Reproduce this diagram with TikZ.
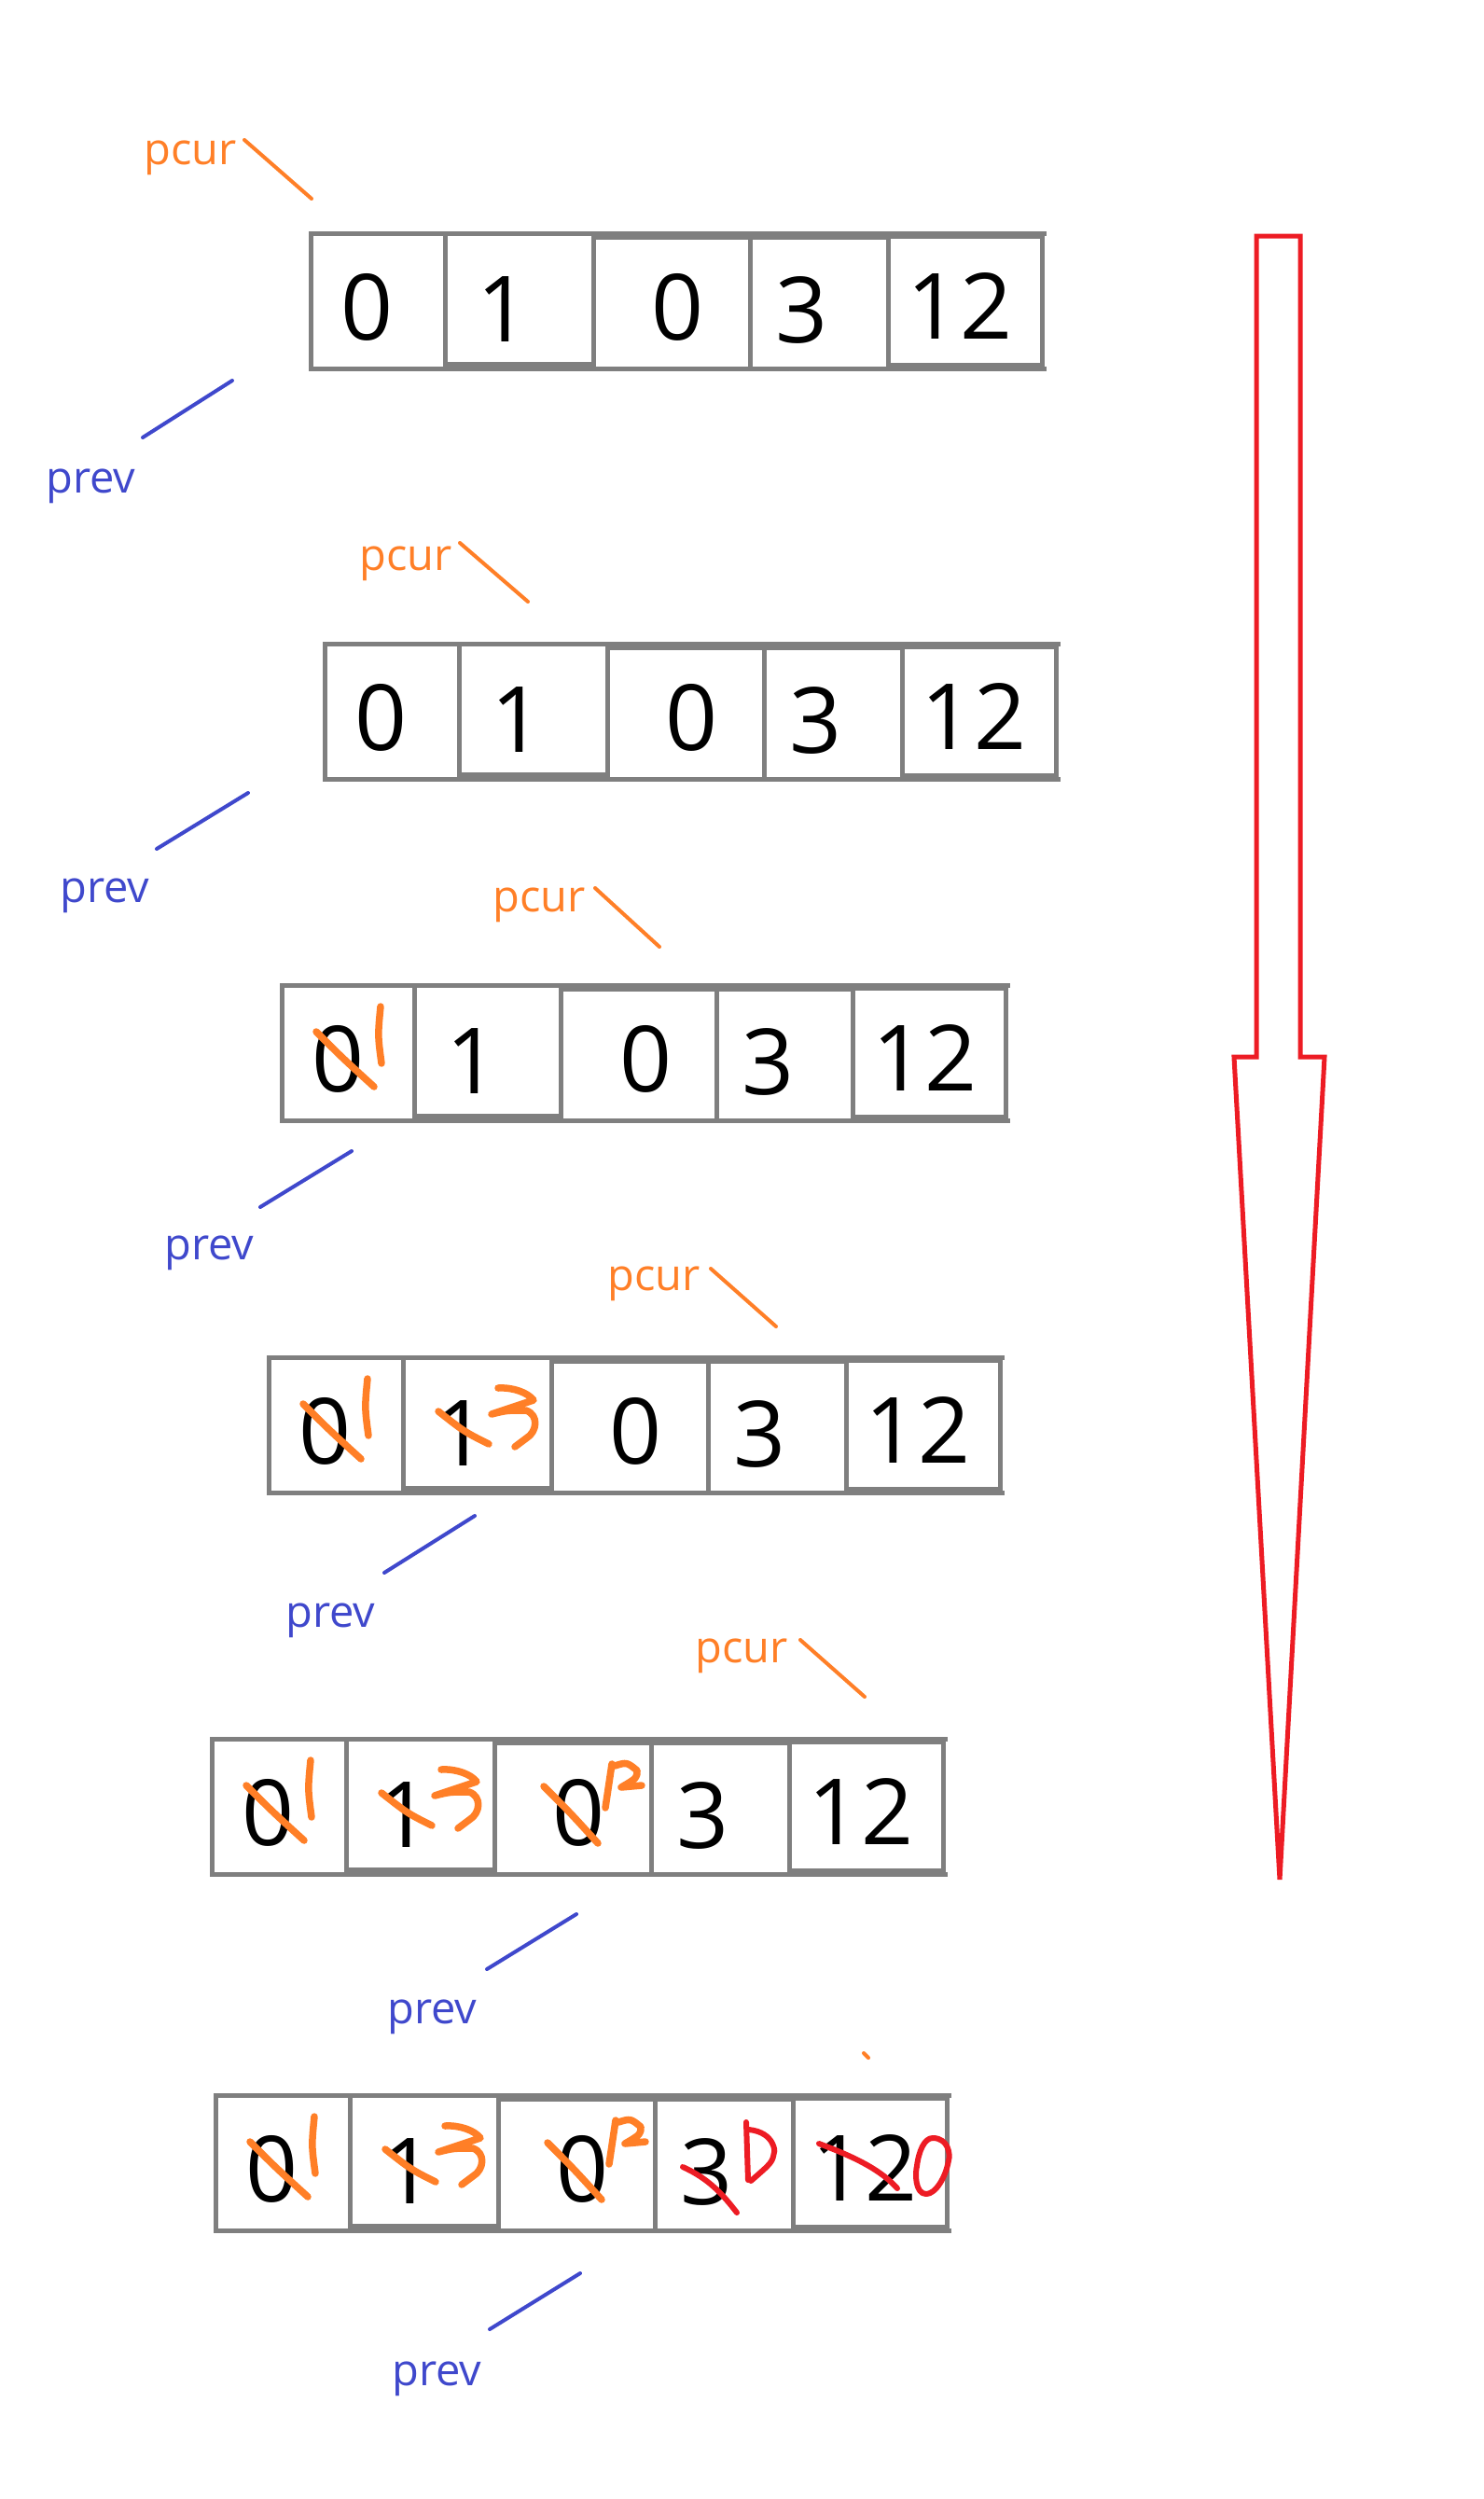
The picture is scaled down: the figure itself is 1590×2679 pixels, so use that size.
\documentclass[tikz,border=0pt]{standalone}
\usepackage{fontspec}
\setmainfont{Open Sans}
\definecolor{cellgray}{HTML}{7F7F7F}
\definecolor{pcurorange}{HTML}{FF7F27}
\definecolor{prevblue}{HTML}{3F48CC}
\definecolor{inkred}{HTML}{ED1C24}
\tikzset{
  cellline/.style={draw=cellgray, line width=5pt},
  digit/.style={anchor=base, inner sep=0pt, text=black, font=\fontsize{98}{100}\selectfont},
  pcurlabel/.style={anchor=base west, inner sep=0pt, text=pcurorange, font=\fontsize{47}{50}\selectfont},
  prevlabel/.style={anchor=base west, inner sep=0pt, text=prevblue, font=\fontsize{47}{50}\selectfont},
  pcurline/.style={draw=pcurorange, line width=4pt, line cap=round},
  prevline/.style={draw=prevblue, line width=4pt, line cap=round},
  orangeink/.style={draw=pcurorange, line width=7.5pt, line cap=round, line join=round},
  redink/.style={draw=inkred, line width=6pt, line cap=round, line join=round},
  bigarrow/.style={draw=inkred, line width=5pt, line join=miter}
}
% one row of five cells; #1 name prefix, #2 left x, #3 top y, #4 horizontal scale
\newcommand{\numberrow}[4]{%
  \begin{scope}[shift={(#2,#3)}, xscale=#4]
    \draw[cellline] (0,0) rectangle (144,145);
    \draw[cellline] (144,0) rectangle (303,140);
    \draw[cellline] (303,4) rectangle (471,145);
    \draw[cellline] (471,4) rectangle (619,145);
    \draw[cellline] (619,3) rectangle (784,141);
    \draw[cellline] (0,0) -- (789,0);
    \draw[cellline] (0,145) -- (789,145);
    \node[digit] (#1a) at (61,114) {0};
    \node[digit] (#1b) at (207,116) {1};
    \node[digit] (#1c) at (394,114) {0};
    \node[digit] (#1d) at (527,117) {3};
    \node[digit] (#1e) at (696,113) {12};
  \end{scope}}
% hand-written corrections, relative to the row origin
\newcommand{\fixfirst}[2]{%
  \begin{scope}[shift={(#1,#2)}]
    \draw[orangeink] (37,50) .. controls (65,78) .. (99,109);
    \draw[orangeink] (106,23) .. controls (103,54) .. (107,84);
  \end{scope}}
\newcommand{\fixsecond}[2]{%
  \begin{scope}[shift={(#1,#2)}]
    \draw[orangeink] (182,58) .. controls (210,80) .. (236,93);
    \draw[orangeink] (246,33) .. controls (262,32) and (278,38) .. (284,46)
      -- (239,61) .. controls (255,57) .. (276,57)
      .. controls (290,62) and (288,80) .. (276,87) -- (264,96);
  \end{scope}}
\newcommand{\fixthird}[2]{%
  \begin{scope}[shift={(#1,#2)}]
    \draw[orangeink] (356,51) .. controls (385,80) .. (414,112);
    \draw[orangeink] (429,27) -- (422,74);
    \draw[orangeink] (432,29) .. controls (445,25) .. (456,34)
      .. controls (456,42) .. (439,52) -- (461,50);
  \end{scope}}
\newcommand{\fixlast}[2]{%
  \begin{scope}[shift={(#1,#2)}]
    \draw[redink] (501,77) .. controls (530,90) and (545,108) .. (559,126);
    \draw[redink] (569,29) -- (571,91);
    \draw[redink] (572,37) .. controls (600,40) and (600,62) .. (599,61)
      .. controls (597,72) .. (574,92);
    \draw[redink] (647,52) .. controls (690,68) and (715,82) .. (731,100);
    \draw[redink] (769,46) .. controls (786,46) and (788,64) .. (786,70)
      .. controls (783,88) and (772,106) .. (762,106)
      .. controls (750,106) and (750,84) .. (752,76)
      .. controls (754,60) and (760,46) .. (769,46);
  \end{scope}}
\begin{document}
\begin{tikzpicture}[x=1pt,y=-1pt]
\fill[white] (0,0) rectangle (1590,2679);
\useasboundingbox (0,0) rectangle (1590,2679);

% rows
\numberrow{ra}{333}{250}{1}
\numberrow{rb}{348}{690}{1}
\numberrow{rc}{302}{1056}{0.99}
\numberrow{rd}{288}{1455}{1}
\numberrow{re}{227}{1864}{1}
\numberrow{rf}{231}{2246}{1}

% corrections
\fixfirst{302}{1056}
\fixfirst{288}{1455}\fixsecond{288}{1455}
\fixfirst{227}{1864}\fixsecond{227}{1864}\fixthird{227}{1864}
\fixfirst{231}{2246}\fixsecond{231}{2246}\fixthird{231}{2246}\fixlast{231}{2246}

% pcur labels and pointers
\node[pcurlabel] (pcura) at (154,176) {pcur};
\coordinate (pcas) at (262,150); \coordinate (pcae) at (334,213);
\draw[pcurline] (pcas) -- (pcae);
\node[pcurlabel] (pcurb) at (385,611) {pcur};
\coordinate (pcbs) at (493,582); \coordinate (pcbe) at (566,645);
\draw[pcurline] (pcbs) -- (pcbe);
\node[pcurlabel] (pcurc) at (528,977) {pcur};
\coordinate (pccs) at (638,952); \coordinate (pcce) at (707,1015);
\draw[pcurline] (pccs) -- (pcce);
\node[pcurlabel] (pcurd) at (651,1383) {pcur};
\coordinate (pcds) at (762,1360); \coordinate (pcde) at (832,1422);
\draw[pcurline] (pcds) -- (pcde);
\node[pcurlabel] (pcure) at (745,1782) {pcur};
\coordinate (pces) at (858,1758); \coordinate (pcee) at (927,1819);
\draw[pcurline] (pces) -- (pcee);
\coordinate (pcfs) at (926,2201); \coordinate (pcfe) at (931,2206);
\draw[pcurline] (pcfs) -- (pcfe);

% prev labels and pointers
\node[prevlabel] (preva) at (49,528) {prev};
\coordinate (pvas) at (249,408); \coordinate (pvae) at (153,469);
\draw[prevline] (pvas) -- (pvae);
\node[prevlabel] (prevb) at (64,967) {prev};
\coordinate (pvbs) at (266,850); \coordinate (pvbe) at (168,910);
\draw[prevline] (pvbs) -- (pvbe);
\node[prevlabel] (prevc) at (176,1350) {prev};
\coordinate (pvcs) at (377,1234); \coordinate (pvce) at (279,1294);
\draw[prevline] (pvcs) -- (pvce);
\node[prevlabel] (prevd) at (306,1744) {prev};
\coordinate (pvds) at (509,1625); \coordinate (pvde) at (412,1686);
\draw[prevline] (pvds) -- (pvde);
\node[prevlabel] (preve) at (415,2169) {prev};
\coordinate (pves) at (618,2052); \coordinate (pvee) at (522,2111);
\draw[prevline] (pves) -- (pvee);
\node[prevlabel] (prevf) at (420,2557) {prev};
\coordinate (pvfs) at (622,2437); \coordinate (pvfe) at (525,2497);
\draw[prevline] (pvfs) -- (pvfe);

% big downward arrow
\draw[bigarrow] (1347,253) -- (1394,253) -- (1394,1133) -- (1420,1133)
  -- (1372,2015) -- (1323,1133) -- (1347,1133) -- cycle;
\end{tikzpicture}
\end{document}
